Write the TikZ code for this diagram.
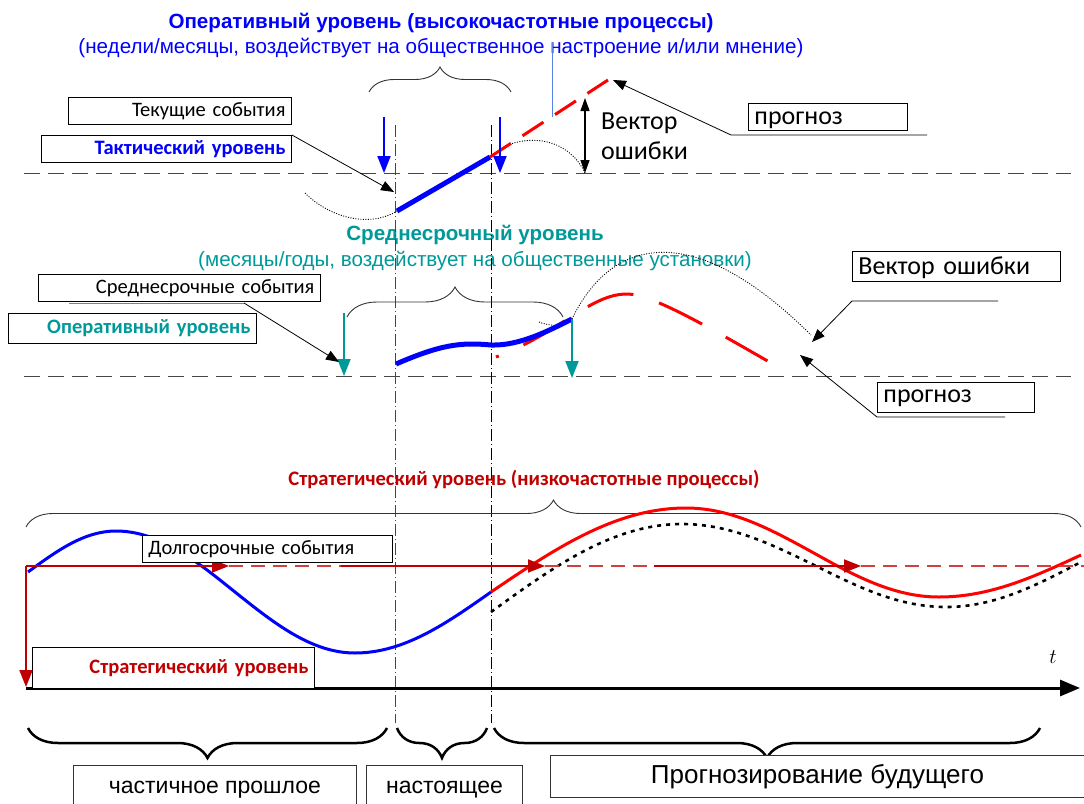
\documentclass[tikz,border=0pt]{standalone}
\usepackage{fontspec}
\setmainfont{Liberation Sans}
\newfontfamily\carl{Carlito}
\usetikzlibrary{arrows.meta,decorations.pathreplacing}
\definecolor{cblue}{RGB}{0,0,255}
\definecolor{cteal}{RGB}{0,153,153}
\definecolor{cdred}{RGB}{192,0,0}
\definecolor{cred}{RGB}{255,0,0}
\definecolor{cgray}{RGB}{70,70,70}
\definecolor{clblue}{RGB}{90,130,230}
\newcommand\fsz[1]{\fontsize{#1}{#1}\selectfont}
\tikzset{
  evbox/.style={draw=black, line width=0.9pt, fill=white, inner xsep=6pt, inner ysep=0pt, anchor=north west, font=\carl\fsz{20.5}},
  botbox/.style={draw=black!80, line width=0.9pt, fill=white, inner sep=0pt, anchor=north west, font=\fsz{23}},
  basedash/.style={draw=cgray, line width=0.9pt, dash pattern=on 16pt off 8pt},
  vline/.style={draw=cgray, line width=0.9pt, dash pattern=on 12pt off 3pt on 1pt off 3pt},
  thinarr/.style={draw=black, line width=0.8pt, -{Triangle[length=13pt,width=10pt]}},
  bluearr/.style={draw=cblue, line width=2pt, -{Triangle[length=17pt,width=13pt]}},
  tealarr/.style={draw=cteal, line width=2pt, -{Triangle[length=17pt,width=13pt]}},
  dotcurve/.style={draw=black, line width=0.9pt, dash pattern=on 1pt off 1.5pt},
  tbrace/.style={draw=black!80, line width=0.9pt, decorate, decoration={brace, amplitude=#1}},
  bbrace/.style={draw=black, line width=2.5pt, decorate, decoration={brace, amplitude=#1}},
  redarr/.style={draw=cdred, line width=2pt, -{Triangle[length=17pt,width=13pt]}},
  reddash/.style={draw=cdred!75, line width=1.3pt, dash pattern=on 14pt off 8pt},
  errarr/.style={draw=black, line width=1.2pt, {Triangle[length=13pt,width=9pt]}-{Triangle[length=13pt,width=9pt]}},
}
\begin{document}
\begin{tikzpicture}[x=1pt,y=-1pt]
\useasboundingbox (0,0) rectangle (1084,803);

% ---------- titles ----------
\node[font=\bfseries\fsz{20.6}, text=cblue] (t1) at (441,23) {Оперативный уровень (высокочастотные процессы)};
\node[font=\fsz{20.6}, text=cblue] (t1s) at (441,48) {(недели/месяцы, воздействует на общественное настроение и/или мнение)};
\node[font=\bfseries\fsz{20.6}, text=cteal] (t2) at (475,235) {Среднесрочный уровень};
\node[font=\fsz{20.6}, text=cteal] (t2s) at (475,261) {(месяцы/годы, воздействует на общественные установки)};
\node[font=\carl\bfseries\fsz{20.6}, text=cdred] (t3) at (524,480) {Стратегический уровень (низкочастотные процессы)};

% ---------- baselines ----------
\coordinate (b1l) at (24,173); \coordinate (b1r) at (1071,173);
\coordinate (b2l) at (24,376); \coordinate (b2r) at (1071,376);
\draw[basedash] (b1l) -- (b1r);
\draw[basedash] (b2l) -- (b2r);

% ---------- vertical dash-dot lines ----------
\coordinate (v1t) at (395,125); \coordinate (v1b) at (395,723);
\coordinate (v2t) at (491,125); \coordinate (v2b) at (491,723);
\draw[vline] (v1t) -- (v1b);
\draw[vline, draw=black, line width=0.7pt] (v2t) -- (v2b);

% ---------- top level ----------
\draw[tbrace=25pt] (369,92) -- (511,92);
\draw[clblue, line width=0.6pt] (552,42) -- (552,117);
\draw[dotcurve] (305,193) .. controls (330,218) and (370,228) .. (397,211);
\draw[dotcurve] (505,146) .. controls (540,132) and (572,145) .. (585,173);
\draw[cred, line width=3pt, dash pattern=on 25pt off 13.8pt] (490,157) -- (608,80);
\draw[cblue, line width=5pt] (397,211) -- (490,157);
\draw[bluearr] (384,117) -- (384,173);
\draw[bluearr] (500,117) -- (500,173);
\draw[errarr] (585,98) -- (585,173);
\node[font=\carl\fsz{26}, align=left, anchor=north west, inner sep=0pt] (vec1) at (601,113) {Вектор\\[4pt]ошибки};

\node[evbox, minimum height=27pt, text width=211pt, align=right] (tek) at (68,97) {Текущие события};
\node[evbox, minimum height=27pt, text width=238pt, align=right, font=\carl\bfseries\fsz{20.5}, text=cblue] (takt) at (41,135) {Тактический уровень};
\coordinate (taktTip) at (394,192);
\draw[thinarr] (takt.north east) -- (taktTip);

\node[evbox, minimum height=27pt, text width=147pt, text height=15pt, text depth=0pt, align=left, font=\carl\fsz{26}] (prog1) at (748,103) {прогноз};
\coordinate (p1a) at (927,135); \coordinate (p1b) at (731,135); \coordinate (p1tip) at (613,80);
\draw[thinarr] (p1a) -- (p1b) -- (p1tip);

% ---------- middle level ----------
\draw[tbrace=30pt] (347,317) -- (563,317);
\draw[dotcurve] (539,322) .. controls (555,328) and (565,325) .. (572,319);
\draw[dotcurve] (572,319) .. controls (610,240) and (690,215) .. (811,335);
\draw[cred, line width=3pt, dash pattern=on 48pt off 27pt, dash phase=45pt] (496,357) .. controls (560,333) and (590,294) .. (627,294) .. controls (650,294) and (700,322) .. (771,363);
\draw[cblue, line width=5pt] (396,364) .. controls (440,345) and (460,342) .. (491,345) .. controls (520,346) and (550,330) .. (572,319);
\draw[tealarr] (344,313) -- (344,376);
\draw[tealarr] (572,319) -- (572,378);

\draw[gray, line width=1pt] (69,303) -- (244,303);
\node[evbox, minimum height=27pt, text width=270pt, align=right] (sred) at (38,274) {Среднесрочные события};
\node[evbox, minimum height=30pt, text width=236pt, align=right, font=\carl\bfseries\fsz{20.5}, text=cteal] (oper) at (8,313) {Оперативный уровень};
\coordinate (sredFrom) at (244,303); \coordinate (sredTip) at (339,362);
\draw[thinarr] (sredFrom) -- (sredTip);

\node[evbox, minimum height=30pt, text width=196pt, text height=16pt, text depth=0pt, align=left, font=\carl\fsz{26}] (vec2) at (852,251) {Вектор ошибки};
\coordinate (v2a) at (998,301); \coordinate (v2bnd) at (852,301); \coordinate (v2tip) at (812,342);
\draw[thinarr] (v2a) -- (v2bnd) -- (v2tip);

\node[evbox, minimum height=30pt, text width=145pt, text height=11pt, text depth=0pt, align=left, font=\carl\fsz{26}] (prog2) at (877,382) {прогноз};
\coordinate (p2a) at (1005,417); \coordinate (p2b) at (877,417); \coordinate (p2tip) at (800,355);
\draw[thinarr] (p2a) -- (p2b) -- (p2tip);

% ---------- strategic level ----------
\draw[tbrace=27pt] (26,527) -- (1081,527);
\draw[cblue, line width=3pt] (28,572) sin (116,531) cos (235,592) sin (355,653) cos (491,592);
\draw[cred, line width=3pt] (491,592) sin (686,508) cos (812,552) sin (939,597) cos (1081,555);
\draw[black, line width=2.6pt, dash pattern=on 4pt off 5pt] (491,612) sin (682,524) cos (814,565) sin (946,607) cos (1081,562);

\coordinate (r0) at (26,566); \coordinate (r1) at (229,566); \coordinate (r2) at (341,566);
\coordinate (r3) at (545,566); \coordinate (r4) at (654,566); \coordinate (r5) at (861,566);
\coordinate (r6) at (1084,566); \coordinate (rdown) at (26,687);
\draw[reddash] (r1) -- (r2);
\draw[reddash] (r3) -- (r4);
\draw[reddash] (r5) -- (r6);
\draw[redarr] (r0) -- (r1);
\draw[redarr] (r2) -- (r3);
\draw[redarr] (r4) -- (r5);

\coordinate (ax0) at (26,688); \coordinate (ax1) at (1080,688);
\draw[line width=3pt, -{Triangle[length=20pt,width=16pt]}] (ax0) -- (ax1);
\node[font=\rmfamily\itshape\fsz{22}] (tlab) at (1053,657) {$t$};

\node[evbox, minimum height=27pt, text width=238pt, align=left] (dolg) at (142,535) {Долгосрочные события};
\node[evbox, minimum height=41pt, text width=270pt, align=right, font=\carl\bfseries\fsz{20.5}, text=cdred] (strat) at (32,647) {Стратегический уровень};
\draw[redarr] (r0) -- (rdown);

% ---------- bottom ----------
\draw[bbrace=30pt] (387,728) -- (28,728);
\draw[bbrace=30pt] (487,728) -- (397,728);
\draw[bbrace=30pt] (1040,728) -- (494,728);
\node[botbox, minimum width=283pt, minimum height=45pt, text height=17pt, text depth=5pt] (past) at (73,765) {частичное прошлое};
\node[botbox, minimum width=156pt, minimum height=45pt, text height=17pt, text depth=5pt] (now) at (366,765) {настоящее};
\node[botbox, minimum width=534pt, minimum height=42pt, font=\fsz{26}] (fut) at (550,755) {Прогнозирование будущего};
\end{tikzpicture}
\end{document}
